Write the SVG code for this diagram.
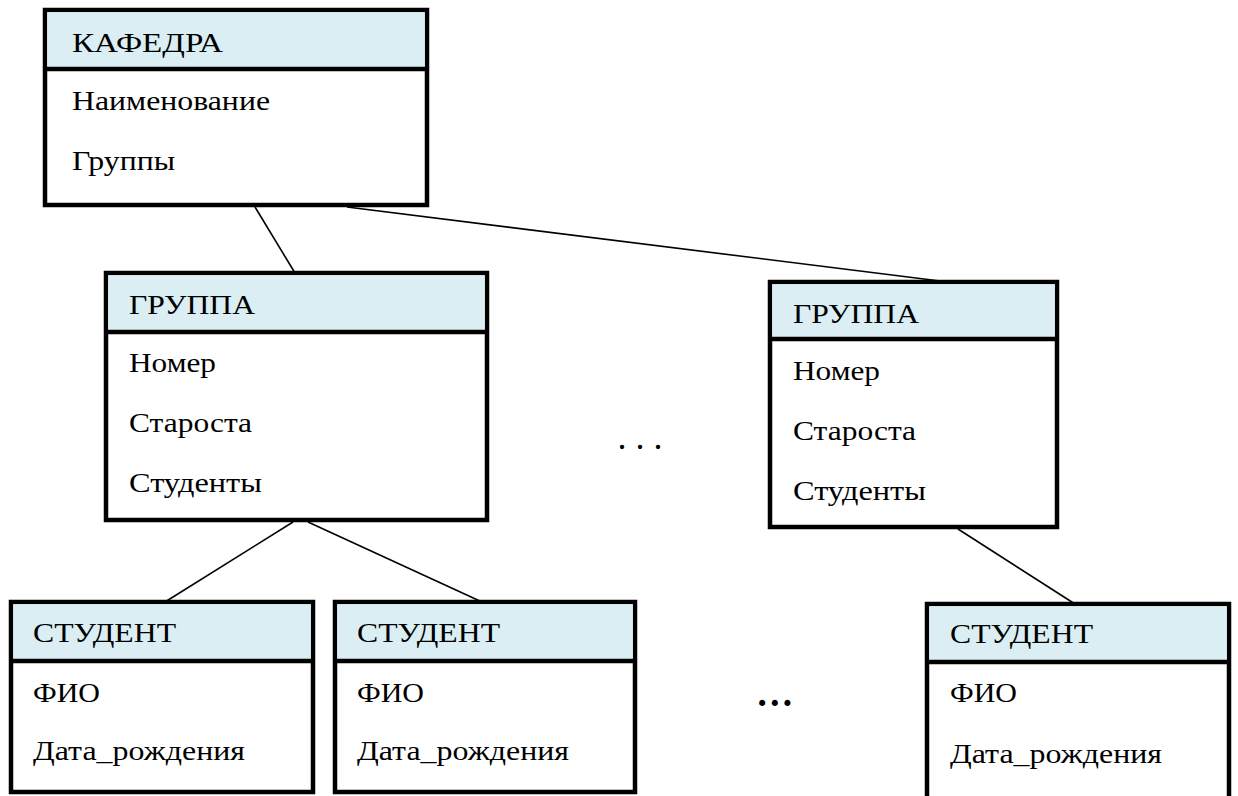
<svg xmlns="http://www.w3.org/2000/svg" width="1238" height="796" viewBox="0 0 1238 796">
<style>
  .box { fill: #ffffff; stroke: #000; stroke-width: 4.5; }
  .hdr { fill: #DAEEF3; stroke: none; }
  .div { stroke: #000; stroke-width: 4.5; }
  .t { font-family: "Liberation Serif", "DejaVu Serif", serif; font-size: 27px; fill: #000; }
  .conn line { stroke: #000; stroke-width: 1.6; }
  .dots { font-family: "Liberation Serif", "DejaVu Serif", serif; fill: #000; }
</style>
<rect width="1238" height="796" fill="#fff"/>
<g id="connectors" class="conn">
  <line x1="255" y1="207" x2="295" y2="273"/>
  <line x1="347" y1="207" x2="948" y2="282"/>
  <line x1="293" y1="522" x2="165" y2="602"/>
  <line x1="308" y1="522" x2="482" y2="602"/>
  <line x1="958" y1="529" x2="1075" y2="604"/>
</g>
<g id="kafedra">
  <rect class="box" x="45" y="10" width="382" height="195"/>
  <rect class="hdr" x="47.25" y="12.25" width="377.5" height="56.75"/>
  <line class="div" x1="45" y1="69" x2="427" y2="69"/>
  <text class="t" x="72" y="52" textLength="151" lengthAdjust="spacingAndGlyphs">КАФЕДРА</text>
  <text class="t" x="72" y="110" textLength="198" lengthAdjust="spacingAndGlyphs">Наименование</text>
  <text class="t" x="72" y="170" textLength="103" lengthAdjust="spacingAndGlyphs">Группы</text>
</g>
<g id="gruppa1">
  <rect class="box" x="106" y="273" width="381" height="247"/>
  <rect class="hdr" x="108.25" y="275.25" width="376.5" height="56.75"/>
  <line class="div" x1="106" y1="332" x2="487" y2="332"/>
  <text class="t" x="129" y="314" textLength="126" lengthAdjust="spacingAndGlyphs">ГРУППА</text>
  <text class="t" x="129" y="372" textLength="87" lengthAdjust="spacingAndGlyphs">Номер</text>
  <text class="t" x="129" y="432" textLength="123" lengthAdjust="spacingAndGlyphs">Староста</text>
  <text class="t" x="129" y="492" textLength="133" lengthAdjust="spacingAndGlyphs">Студенты</text>
</g>
<g id="gruppa2">
  <rect class="box" x="770" y="282" width="287" height="245"/>
  <rect class="hdr" x="772.25" y="284.25" width="282.5" height="54.75"/>
  <line class="div" x1="770" y1="339" x2="1057" y2="339"/>
  <text class="t" x="793" y="323" textLength="126" lengthAdjust="spacingAndGlyphs">ГРУППА</text>
  <text class="t" x="793" y="380" textLength="87" lengthAdjust="spacingAndGlyphs">Номер</text>
  <text class="t" x="793" y="440" textLength="123" lengthAdjust="spacingAndGlyphs">Староста</text>
  <text class="t" x="793" y="500" textLength="133" lengthAdjust="spacingAndGlyphs">Студенты</text>
</g>
<g id="student1">
  <rect class="box" x="11" y="602" width="302" height="190"/>
  <rect class="hdr" x="13.25" y="604.25" width="297.5" height="56.75"/>
  <line class="div" x1="11" y1="661" x2="313" y2="661"/>
  <text class="t" x="33" y="642" textLength="143" lengthAdjust="spacingAndGlyphs">СТУДЕНТ</text>
  <text class="t" x="33" y="702" textLength="67" lengthAdjust="spacingAndGlyphs">ФИО</text>
  <text class="t" x="33" y="760" textLength="212" lengthAdjust="spacingAndGlyphs">Дата_рождения</text>
</g>
<g id="student2">
  <rect class="box" x="335" y="602" width="300" height="190"/>
  <rect class="hdr" x="337.25" y="604.25" width="295.5" height="56.75"/>
  <line class="div" x1="335" y1="661" x2="635" y2="661"/>
  <text class="t" x="357" y="642" textLength="143" lengthAdjust="spacingAndGlyphs">СТУДЕНТ</text>
  <text class="t" x="357" y="702" textLength="67" lengthAdjust="spacingAndGlyphs">ФИО</text>
  <text class="t" x="357" y="760" textLength="212" lengthAdjust="spacingAndGlyphs">Дата_рождения</text>
</g>
<g id="student3">
  <rect class="box" x="927" y="604" width="302" height="200"/>
  <rect class="hdr" x="929.25" y="606.25" width="297.5" height="55.75"/>
  <line class="div" x1="927" y1="662" x2="1229" y2="662"/>
  <text class="t" x="950" y="643" textLength="143" lengthAdjust="spacingAndGlyphs">СТУДЕНТ</text>
  <text class="t" x="950" y="702" textLength="67" lengthAdjust="spacingAndGlyphs">ФИО</text>
  <text class="t" x="950" y="763" textLength="212" lengthAdjust="spacingAndGlyphs">Дата_рождения</text>
</g>
<g id="ellipses">
  <text class="dots" x="617.5" y="449" font-size="36">. . .</text>
  <text class="dots" x="756" y="706" font-size="37.5" font-weight="bold">…</text>
</g>
</svg>
